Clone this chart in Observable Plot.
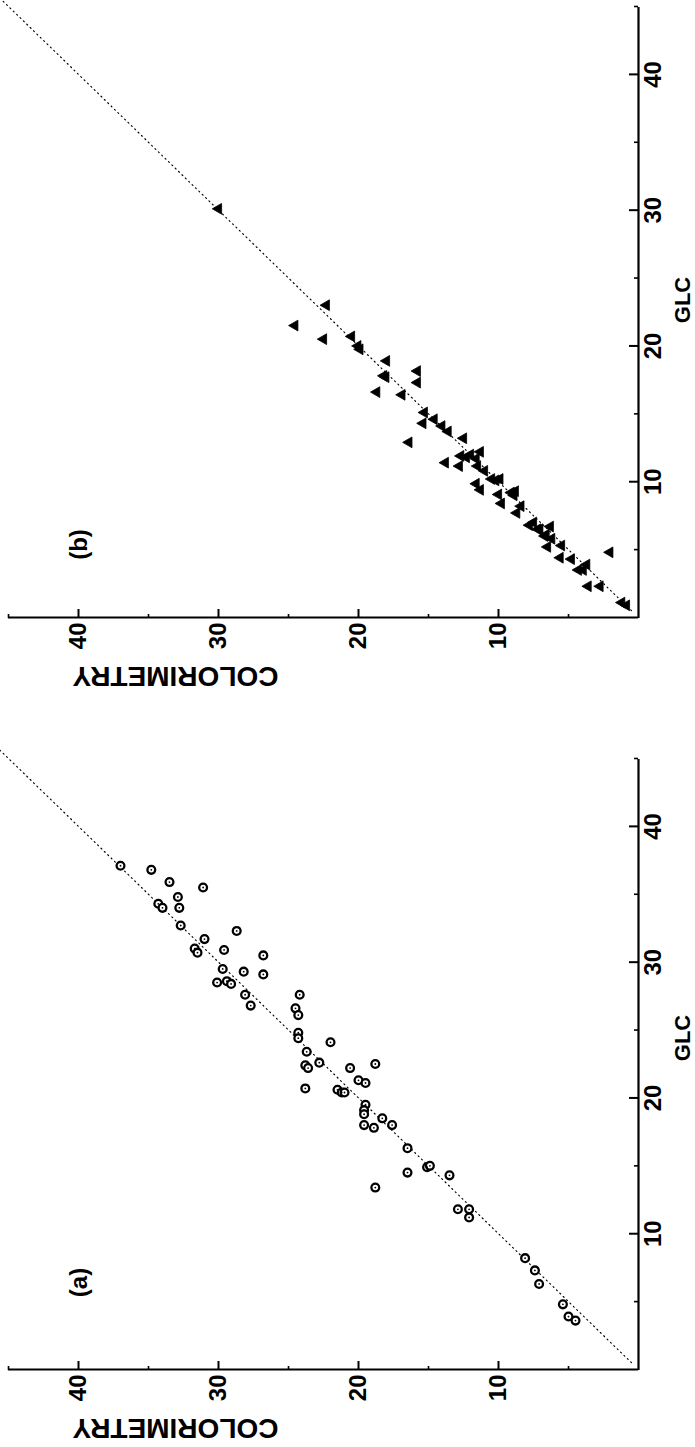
<!DOCTYPE html>
<html>
<head>
<meta charset="utf-8">
<script src="https://cdn.jsdelivr.net/npm/d3@7"></script>
<script src="https://cdn.jsdelivr.net/npm/@observablehq/plot@0.6"></script>
<style>
  html, body { margin: 0; padding: 0; background: #fff; overflow: hidden; }
  #outer { position: relative; width: 695px; height: 1447px; overflow: hidden; }
  #inner { position: absolute; left: 0; top: 0; width: 1447px; height: 695px;
           display: flex; transform-origin: 0 0;
           transform: translate(0px, 1447px) rotate(-90deg); }
  #inner svg { display: block; }
</style>
</head>
<body>
<div id="outer"><div id="inner"></div></div>
<script>
// ---- Data (panel a: circles, panel b: triangles) ----
const glcA = [37.1, 36.8, 35.9, 35.5, 34.8, 34.3, 34.0, 34.0, 32.7, 32.3, 31.7, 31.0, 30.7, 30.9, 30.5,
  29.5, 29.3, 29.1, 28.5, 28.6, 28.4, 27.6, 26.8, 27.6, 26.6, 26.1, 24.8, 24.4, 24.1, 23.4, 22.4, 22.2,
  22.6, 22.2, 22.5, 21.3, 21.1, 20.7, 20.6, 20.4, 20.4, 19.5, 19.1, 18.8, 18.5, 18.0, 17.8, 18.0, 16.3,
  14.5, 13.4, 14.9, 15.0, 14.3, 11.8, 11.8, 11.2, 8.2, 7.3, 6.3, 4.8, 3.9, 3.6];
const colA = [37.0, 34.8, 33.5, 31.1, 32.9, 34.3, 34.0, 32.8, 32.7, 28.7, 31.0, 31.7, 31.5, 29.6, 26.8,
  29.7, 28.2, 26.8, 30.1, 29.4, 29.1, 28.1, 27.7, 24.2, 24.5, 24.3, 24.3, 24.3, 22.0, 23.7, 23.8, 23.6,
  22.8, 20.6, 18.8, 20.0, 19.5, 23.8, 21.5, 21.2, 21.0, 19.5, 19.6, 19.6, 18.3, 19.6, 18.9, 17.6, 16.5,
  16.5, 18.8, 15.1, 14.9, 13.5, 12.9, 12.1, 12.1, 8.1, 7.4, 7.1, 5.4, 5.0, 4.5];

const glcB = [30.1, 23.0, 21.5, 20.5, 20.7, 20.0, 19.75, 18.9, 17.8, 17.7, 18.15, 17.3, 16.6, 16.4, 15.1,
  14.3, 14.6, 14.1, 13.7, 13.2, 12.9, 11.9, 11.8, 12.2, 11.7, 11.4, 11.15, 11.15, 10.8, 10.2, 10.1, 10.2,
  9.85, 9.4, 9.06, 8.4, 9.2, 9.3, 9.0, 8.2, 7.7, 6.8, 6.5, 6.7, 6.0, 5.8, 5.2, 5.3, 4.4, 4.3, 3.9, 3.5,
  3.5, 4.8, 2.3, 2.3, 1.1, 0.9, 6.5, 6.1, 7.0, 12.0];
const colB = [30.0, 22.3, 24.55, 22.5, 20.5, 20.05, 19.9, 18.0, 18.2, 18.05, 15.8, 15.8, 18.7, 16.9, 15.3,
  15.4, 14.6, 14.05, 13.6, 12.5, 16.4, 12.7, 12.3, 11.3, 11.6, 13.8, 12.8, 11.5, 11.0, 10.5, 10.2, 9.9,
  11.6, 11.3, 10.0, 9.8, 9.1, 8.8, 8.9, 8.4, 8.7, 7.8, 7.05, 6.3, 6.7, 6.2, 6.5, 5.5, 5.6, 4.8, 3.7, 4.3,
  3.95, 2.05, 3.6, 2.75, 1.2, 0.86, 7.2, 6.6, 7.5, 12.0];

const majorTicks = [10, 20, 30, 40];
const minorTicks = [5, 15, 25, 35, 45];
const axisDomain = [0, 45];
const identityLine = [0.5, 46];
const xTitle = "GLC";
const yTitle = "COLORIMETRY";

const FONT = "'Liberation Sans', Arial, Helvetica, sans-serif";

function panel({glc, col, kind, tag, width, marginLeft, marginRight, tagDx, tagDy, xTitleDx}) {
  const marginTop = 8, marginBottom = 57, height = 695;
  const plotW = width - marginLeft - marginRight;
  const plotH = height - marginTop - marginBottom;
  const pts = glc.map((g, i) => ({glc: g, col: col[i]}));
  const line = identityLine.map(v => ({glc: v, col: v}));
  const pointMarks = kind === "circle"
    ? [Plot.dot(pts, {x: "glc", y: "col", r: 3.9, stroke: "black", strokeWidth: 2.3, fill: "white"}),
       Plot.dot(pts, {x: "glc", y: "col", r: 0.9, fill: "black"})]
    : [Plot.dot(pts, {x: "glc", y: "col", symbol: "triangle", r: 4.0, fill: "black", stroke: "black", strokeWidth: 0.8})];
  return Plot.plot({
    width, height, marginLeft, marginRight, marginTop, marginBottom,
    style: {fontFamily: FONT, background: "white", overflow: "visible"},
    x: {domain: axisDomain},
    y: {domain: axisDomain},
    marks: [
      Plot.line(line, {x: "glc", y: "col", stroke: "black", strokeWidth: 1.15, strokeDasharray: "1.1,3.6", clip: false}),
      ...pointMarks,
      Plot.ruleY([axisDomain[0]], {stroke: "black", strokeWidth: 2.2}),
      Plot.ruleX([axisDomain[0]], {stroke: "black", strokeWidth: 2.2}),
      Plot.tickX(majorTicks, {x: d => d, insetTop: plotH - 9, strokeWidth: 2}),
      Plot.tickX(minorTicks, {x: d => d, insetTop: plotH - 4, strokeWidth: 1.6}),
      Plot.tickY(majorTicks, {y: d => d, insetRight: plotW - 9, strokeWidth: 2}),
      Plot.tickY(minorTicks, {y: d => d, insetRight: plotW - 4, strokeWidth: 1.6}),
      Plot.axisX({ticks: majorTicks, tickSize: 0, tickPadding: 5, label: null,
                  fontSize: 24, fontWeight: "bold", fill: "black"}),
      Plot.axisY({ticks: majorTicks, tickSize: 0, tickPadding: 5, label: null,
                  fontSize: 24, fontWeight: "bold", fill: "black"}),
      Plot.text([xTitle], {frameAnchor: "bottom", textAnchor: "middle", lineAnchor: "middle",
                           dx: xTitleDx, dy: 44, fontSize: 22, fontWeight: "bold", fill: "black"}),
      Plot.text([yTitle], {frameAnchor: "left", textAnchor: "middle", lineAnchor: "middle", rotate: -90,
                           dx: -58, dy: -148, fontSize: 28, fontWeight: "bold", fill: "black"}),
      Plot.text([tag], {frameAnchor: "top-left", textAnchor: "middle", lineAnchor: "middle",
                        dx: tagDx, dy: tagDy, fontSize: 24, fontWeight: "bold", fill: "black"})
    ]
  });
}

const inner = document.getElementById("inner");
inner.appendChild(panel({glc: glcA, col: colA, kind: "circle", tag: "(a)", width: 723,
  marginLeft: 77, marginRight: 35, tagDx: 87, tagDy: 71, xTitleDx: 26}));
inner.appendChild(panel({glc: glcB, col: colB, kind: "triangle", tag: "(b)", width: 724,
  marginLeft: 106, marginRight: 7, tagDx: 73, tagDy: 71, xTitleDx: 12}));
</script>
</body>
</html>
